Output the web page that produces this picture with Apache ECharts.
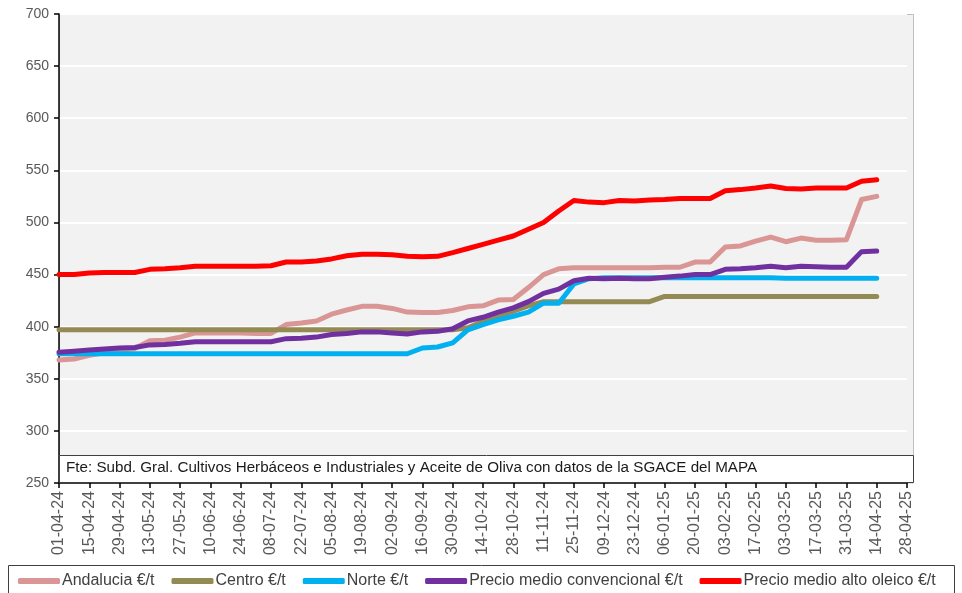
<!DOCTYPE html>
<html>
<head>
<meta charset="utf-8">
<script src="https://cdn.jsdelivr.net/npm/echarts@6/dist/echarts.min.js"></script>
<style>html,body{margin:0;padding:0;background:#fff;}#chart{width:962px;height:593px;}</style>
</head>
<body>
<div id="chart"></div>
<script>
var weeks = ["01-04-24","08-04-24","15-04-24","22-04-24","29-04-24","06-05-24","13-05-24","20-05-24","27-05-24","03-06-24","10-06-24","17-06-24","24-06-24","01-07-24","08-07-24","15-07-24","22-07-24","29-07-24","05-08-24","12-08-24","19-08-24","26-08-24","02-09-24","09-09-24","16-09-24","23-09-24","30-09-24","07-10-24","14-10-24","21-10-24","28-10-24","04-11-24","11-11-24","18-11-24","25-11-24","02-12-24","09-12-24","16-12-24","23-12-24","30-12-24","06-01-25","13-01-25","20-01-25","27-01-25","03-02-25","10-02-25","17-02-25","24-02-25","03-03-25","10-03-25","17-03-25","24-03-25","31-03-25","07-04-25","14-04-25","21-04-25","28-04-25"];

var seriesNames = ["Andalucia €/t","Centro €/t","Norte €/t","Precio medio convencional €/t","Precio medio alto oleico €/t"];

var andalucia = [368,369,372.5,375,377,379,386.5,387,390,394,394,394,394,393.5,393.5,402,403.5,405.5,412,416,419.5,419.5,417.5,414,413.5,413.5,415.5,419,420,425.5,426,437.5,450,455.5,456.5,456.5,456.5,456.5,456.5,456.5,457,457,462,462,476.5,477.5,482,486,481.5,485,483,483,483.5,522,525];

var centro = [397,397,397,397,397,397,397,397,397,397,397,397,397,397,397,397,397,397,397,397,397,397,397,397,397,397,397,399,405,410,415,420,424,424,424,424,424,424,424,424,429,429,429,429,429,429,429,429,429,429,429,429,429,429,429];

var norte = [374,374,374,374,374,374,374,374,374,374,374,374,374,374,374,374,374,374,374,374,374,374,374,374,379.5,380.5,384.5,397,402,406.5,410,414,422.5,422.5,441,446,447,447,447,447,447,447,447,447,447,447,447,447,446.5,446.5,446.5,446.5,446.5,446.5,446.5];

var convencional = [375.5,376.5,377.5,378.5,379.5,380,382.5,383,384,385.5,385.5,385.5,385.5,385.5,385.5,388.5,389,390,392.5,393.5,395,395,394,393,395,395.5,398,405.5,409,414,418,424,432,436,444,446.5,446,446.5,446,446,447.5,448.5,450,450,455,455.5,456.5,458,456.5,458,457.5,457,457,472,472.5];

var altoOleico = [450,450,451.5,452,452,452,455,455.5,456.5,458,458,458,458,458,458.5,462,462,463,465,468,469.5,469.5,469,467.5,467,467.5,471,475,479,483,487,493.5,500,511,521,519.5,519,521,520.5,521.5,522,523,523,523,530.5,531.5,533,535,532.5,532,533,533,533,539.5,541];

var yTicks = {min: 250, max: 700, step: 50};
var sourceNote = "Fte: Subd. Gral. Cultivos Herbáceos e Industriales y Aceite de Oliva con datos de la SGACE del MAPA";

var colors = ["#DA9694","#948A54","#00B0F0","#7030A0","#FF0000"];
var seriesData = [andalucia, centro, norte, convencional, altoOleico];

var chart = echarts.init(document.getElementById('chart'), null, {renderer: 'canvas'});

var series = seriesNames.map(function (name, i) {
  return {
    name: name,
    type: 'line',
    data: seriesData[i],
    showSymbol: false,
    symbol: 'none',
    smooth: false,
    z: 2 + i,
    lineStyle: {color: colors[i], width: 5, cap: 'round', join: 'round'},
    itemStyle: {color: colors[i]},
    emphasis: {disabled: true},
    animation: false
  };
});

var option = {
  animation: false,
  backgroundColor: '#ffffff',
  textStyle: {fontFamily: 'Liberation Sans, Arial, sans-serif'},
  grid: {left: 59, top: 14, right: 55, bottom: 110, containLabel: false},
  graphic: [
    {type: 'rect', z: -100, silent: true,
      shape: {x: 59.5, y: 14.5, width: 854, height: 468.5},
      style: {fill: '#F2F2F2', stroke: '#BFBFBF', lineWidth: 1}},
    {type: 'rect', z: 100, silent: true,
      shape: {x: 59.5, y: 455.5, width: 854, height: 27},
      style: {fill: '#FFFFFF', stroke: '#404040', lineWidth: 1}},
    {type: 'text', z: 101, silent: true, left: 66, top: 460,
      style: {text: sourceNote, fill: '#1a1a1a', font: '15.2px "Liberation Sans", Arial, sans-serif'}},
    {type: 'rect', z: 100, silent: true,
      shape: {x: 8.5, y: 565.5, width: 946, height: 40},
      style: {fill: '#FFFFFF', stroke: '#404040', lineWidth: 1}}
  ],
  legend: {
    data: seriesNames,
    left: 18,
    top: 573,
    z: 110,
    padding: 0,
    itemGap: 17,
    itemWidth: 42,
    itemHeight: 6,
    icon: 'roundRect',
    selectedMode: false,
    textStyle: {color: '#404040', fontSize: 16, fontFamily: 'Liberation Sans, Arial, sans-serif', padding: [0, 0, 0, -3]}
  },
  xAxis: {
    type: 'category',
    data: weeks,
    boundaryGap: false,
    axisLine: {show: true, lineStyle: {color: '#000000', width: 1.5}},
    axisTick: {show: true, interval: 1, length: 5, inside: false, lineStyle: {color: '#000000', width: 1.5}},
    axisLabel: {interval: 1, rotate: 90, color: '#595959', fontSize: 16, margin: 8,
      fontFamily: 'Liberation Sans, Arial, sans-serif'},
    splitLine: {show: false}
  },
  yAxis: {
    type: 'value',
    min: yTicks.min,
    max: yTicks.max,
    interval: yTicks.step,
    axisLine: {show: true, lineStyle: {color: '#000000', width: 1.5}},
    axisTick: {show: true, length: 5, lineStyle: {color: '#000000', width: 1.5}},
    axisLabel: {color: '#595959', fontSize: 14, margin: 10, fontFamily: 'Liberation Sans, Arial, sans-serif'},
    splitLine: {show: true, lineStyle: {color: '#FFFFFF', width: 2}}
  },
  series: series
};

chart.setOption(option);
</script>
</body>
</html>
